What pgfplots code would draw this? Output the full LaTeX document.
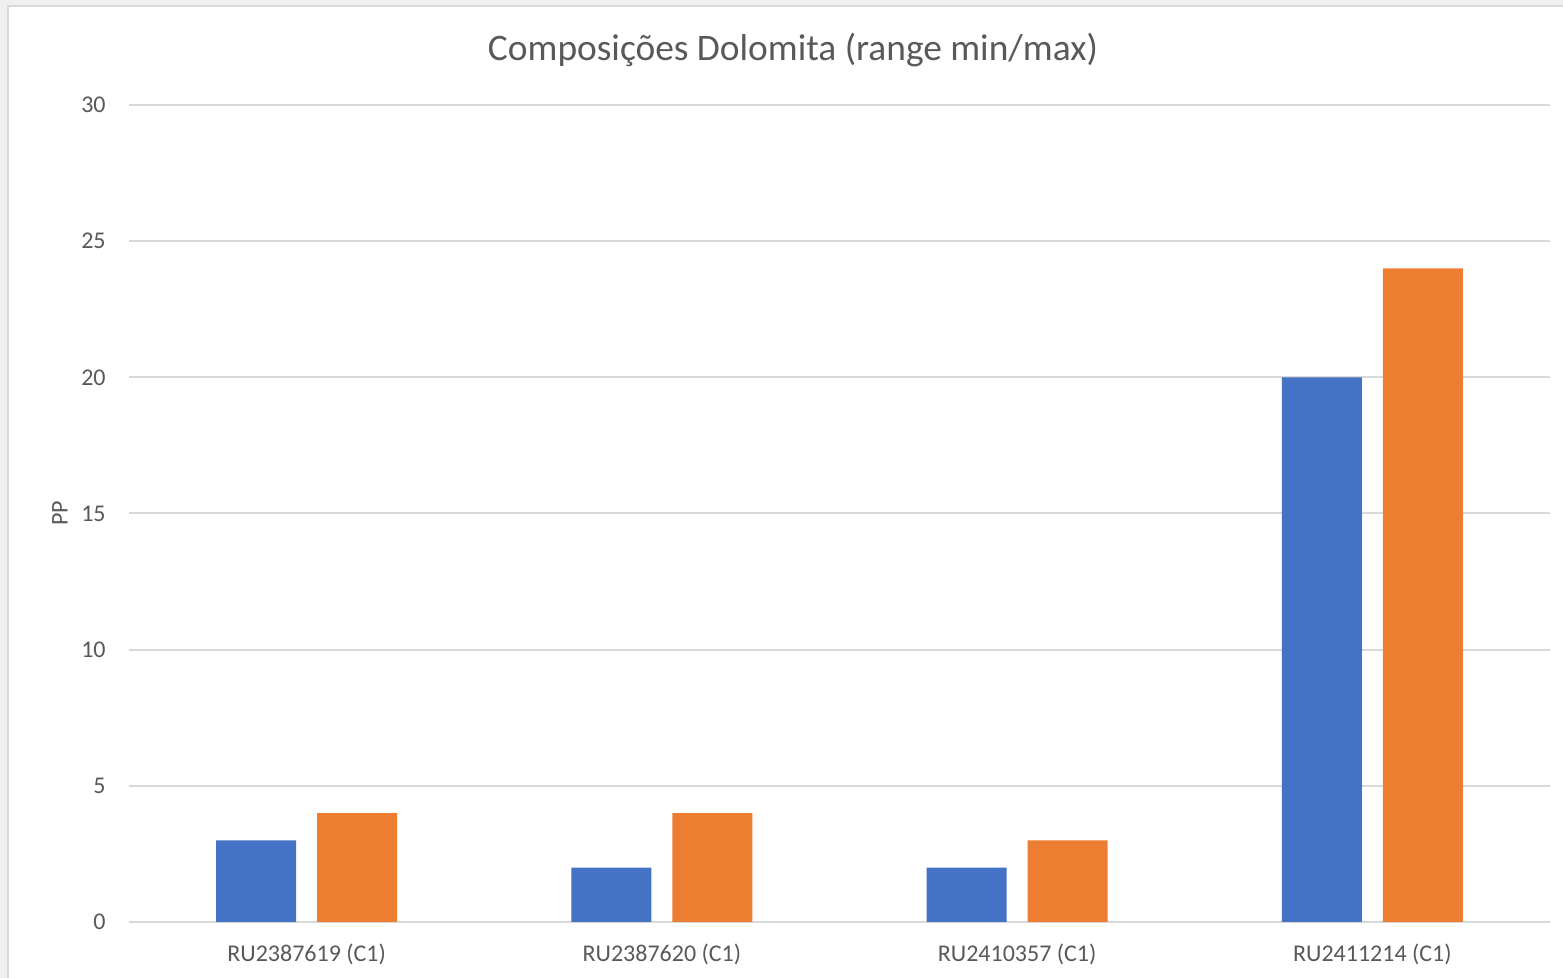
\documentclass[border=0pt]{standalone}
\usepackage{pgfplots}
\pgfplotsset{compat=1.18}
\usepackage{fontspec}
\setmainfont{Carlito}
\definecolor{serblue}{HTML}{4472C4}
\definecolor{serorange}{HTML}{ED7D31}
\definecolor{txtgray}{HTML}{595959}
\definecolor{gridgray}{HTML}{D9D9D9}
\definecolor{bggray}{HTML}{F0F0F0}

\begin{document}
\begin{tikzpicture}[x=1pt,y=1pt]
% outer frame (1px = 0.5pt)
\path[use as bounding box, fill=bggray] (-64.5,-28) rectangle (717,461);
\fill[white] (-60.5,-28) rectangle (717,458);
\draw[gridgray, line width=1pt] (-60.5,-28) -- (-60.5,458) -- (717,458);
\node[txtgray, font=\fontsize{18.7}{22}\selectfont] at (332,436) {Composições Dolomita (range min/max)};
\begin{axis}[
    at={(0,0)}, anchor=south west,
    scale only axis,
    width=710.5pt, height=408.5pt,
    ybar=10.5pt, bar width=40pt,
    xmin=-0.5, xmax=3.5,
    ymin=0, ymax=30,
    xtick=data,
    xticklabels={RU2387619 (C1),RU2387620 (C1),RU2410357 (C1),RU2411214 (C1)},
    ytick={0,5,...,30},
    /pgf/number format/assume math mode=true,
    major tick length=0pt,
    axis line style={draw=none},
    ymajorgrids,
    grid style={gridgray, line width=1pt},
    tick label style={txtgray, font=\fontsize{12}{14}\selectfont},
    x tick label style={anchor=base, yshift=-20pt},
    y tick label style={anchor=east, inner sep=0pt, xshift=-11.5pt},
    ylabel={PP},
    every axis y label/.style={at={(axis description cs:0,0.5)}, xshift=-34.5pt, rotate=90, anchor=center, txtgray, font=\fontsize{12}{14}\selectfont},
    clip=false,
]
\addplot[fill=serblue, draw=none] coordinates {(0,3) (1,2) (2,2) (3,20)};
\addplot[fill=serorange, draw=none] coordinates {(0,4) (1,4) (2,3) (3,24)};
\end{axis}
\end{tikzpicture}
\end{document}
